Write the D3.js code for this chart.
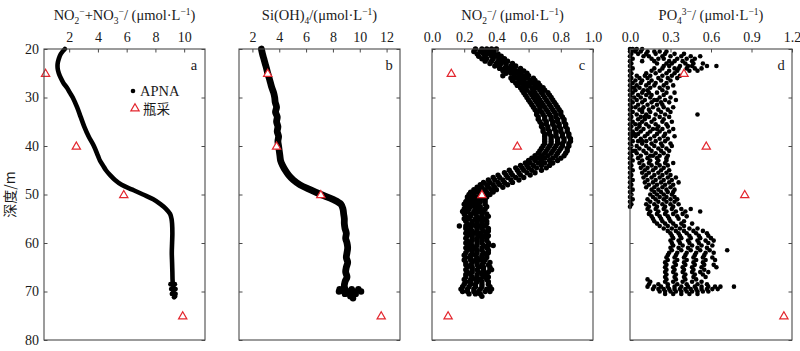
<!DOCTYPE html>
<html lang="zh">
<head>
<meta charset="UTF-8">
<title>APNA profiles</title>
<script src="https://cdn.jsdelivr.net/npm/d3@7"></script>
<style>
  html, body { margin: 0; background: #fff; }
  svg { display: block; }
  text { font-family: "Liberation Serif", "Times New Roman", "DejaVu Serif", serif; fill: #1a1a1a; }
</style>
</head>
<body>
<svg id="svg" width="800" height="351"></svg>
<script>
// ---- data ----
const depthTicks = [20, 30, 40, 50, 60, 70, 80];

// bottle samples (瓶采)
const bottleDepth = [25, 40, 50, 75];
const bottleNOx = [0.36, 2.5, 5.8, 9.9];
const bottleSi = [3.14, 3.8, 7.1, 11.6];
const bottleNO2 = [0.12, 0.53, 0.31, 0.10];
const bottlePO4 = [0.40, 0.565, 0.85, 1.14];

// APNA, NO2+NO3 (continuous trace)
const apnaNOxDepth = [20, 21, 22, 23, 24, 25, 26, 27, 28, 29, 30, 32, 34, 36, 38, 40, 42, 43, 44, 45, 46, 47, 48, 49, 50, 51, 52, 53, 54, 55, 56, 58, 60, 62, 64, 66, 68, 69, 70, 71];
const apnaNOx = [1.70, 1.42, 1.28, 1.20, 1.20, 1.28, 1.42, 1.60, 1.85, 2.05, 2.25, 2.55, 2.80, 3.05, 3.35, 3.72, 4.00, 4.14, 4.35, 4.56, 4.85, 5.19, 5.65, 6.40, 7.14, 7.85, 8.35, 8.75, 9.02, 9.12, 9.16, 9.18, 9.16, 9.14, 9.16, 9.18, 9.20, 9.25, 9.25, 9.37];
const apnaNOxTail = [[68.5, 9.05, 9.35], [69.5, 9.1, 9.4], [70.5, 9.15, 9.4], [71.2, 9.3]];

// APNA, Si(OH)4
const apnaSiDepth = [20, 21, 22, 23, 24, 25, 26, 27, 28, 29, 30, 31, 32, 33, 34, 35, 36, 37, 38, 39, 40, 41, 42, 43, 44, 45, 46, 47, 48, 49, 50, 51, 52, 53, 54, 55, 56, 57, 58, 59, 60, 61, 62, 63, 64, 65, 66, 67, 68, 69, 70];
const apnaSi = [2.67, 2.75, 2.85, 2.95, 3.05, 3.14, 3.25, 3.35, 3.45, 3.58, 3.66, 3.70, 3.80, 3.72, 3.85, 3.80, 3.90, 3.85, 3.95, 3.90, 3.95, 4.00, 4.05, 4.10, 4.25, 4.45, 4.70, 5.05, 5.55, 6.30, 7.10, 8.00, 8.60, 8.75, 8.80, 8.85, 8.85, 8.90, 9.00, 8.95, 9.05, 9.10, 9.05, 9.00, 9.10, 9.00, 8.95, 9.05, 8.90, 8.85, 9.00];
const apnaSiTail = [[69.5, 8.5, 8.9, 9.4, 9.9], [70, 8.45, 8.8, 9.2, 9.6, 10.1], [70.5, 8.9, 9.3, 9.7], [71, 9.3, 9.5], [71.4, 9.5]];

// APNA, NO2 : [depth, values...]
const apnaNO2Rows = [
  [20.0, .27, .31, .34, .37, .40], [20.5, .26, .30, .33, .36, .39], [21.0, .28, .32, .35, .38, .41],
  [21.5, .29, .33, .37, .40, .43], [22.0, .31, .34, .38, .42, .45], [22.5, .33, .37, .41, .44, .47],
  [23.0, .36, .40, .43, .46, .50], [23.5, .39, .42, .46, .49, .52], [24.0, .42, .45, .48, .51, .55],
  [24.5, .44, .47, .50, .53, .57], [25.0, .46, .49, .52, .55, .59], [25.5, .44, .51, .54, .57, .60],
  [26.0, .49, .52, .56, .59, .63], [26.5, .50, .54, .57, .61, .64], [27.0, .52, .55, .59, .62, .66],
  [27.5, .53, .57, .60, .64, .67], [28.0, .55, .58, .62, .65, .69], [28.5, .56, .59, .63, .67, .70],
  [29.0, .57, .61, .64, .68, .72], [29.5, .58, .62, .65, .69, .73], [30.0, .59, .63, .66, .70, .74],
  [30.5, .60, .64, .67, .71, .75], [31.0, .61, .65, .68, .72, .76], [31.5, .62, .66, .69, .73, .77],
  [32.0, .63, .67, .70, .74, .78], [32.5, .64, .67, .71, .75, .79], [33.0, .65, .68, .72, .76, .80],
  [33.5, .65, .69, .73, .77, .80], [34.0, .66, .70, .74, .77, .81], [34.5, .66, .70, .74, .78, .82],
  [35.0, .67, .71, .75, .78, .82], [35.5, .68, .71, .75, .79, .83], [36.0, .68, .72, .76, .79, .83],
  [36.5, .69, .72, .76, .80, .84], [37.0, .69, .73, .77, .80, .84], [37.5, .70, .73, .77, .81, .85],
  [38.0, .70, .74, .77, .81, .85], [38.5, .70, .74, .78, .82, .86], [39.0, .70, .74, .78, .82, .86],
  [39.5, .70, .74, .78, .81, .85], [40.0, .69, .73, .77, .81, .85], [40.5, .68, .72, .76, .80, .84],
  [41.0, .67, .71, .75, .79, .84], [41.5, .66, .70, .74, .78, .83], [42.0, .64, .68, .72, .77, .82],
  [42.5, .62, .66, .70, .75, .80], [43.0, .60, .64, .68, .73, .78], [43.5, .58, .61, .66, .70, .75],
  [44.0, .55, .59, .63, .68, .73], [44.5, .52, .56, .60, .65, .71], [45.0, .48, .53, .57, .62, .68],
  [45.5, .45, .49, .54, .59, .64], [46.0, .41, .46, .50, .55, .61], [46.5, .38, .42, .47, .52, .57],
  [47.0, .35, .39, .44, .49, .54], [47.5, .32, .36, .41, .45, .50], [48.0, .30, .34, .38, .42, .47],
  [48.5, .28, .31, .35, .39, .44], [49.0, .26, .29, .33, .37, .40], [49.5, .24, .28, .31, .34, .38],
  [50.0, .23, .26, .30, .33, .36], [50.5, .22, .25, .28, .31, .34], [51.0, .22, .25, .27, .30, .33],
  [51.5, .21, .24, .27, .30, .33], [52.0, .20, .23, .26, .29, .33], [52.5, .21, .24, .27, .30, .34],
  [53.0, .20, .23, .27, .30, .33], [53.5, .19, .22, .26, .29, .32], [54.0, .20, .24, .27, .31, .34],
  [54.5, .21, .24, .28, .31, .35], [55.0, .20, .23, .27, .30, .33], [55.5, .21, .25, .28, .31, .34],
  [56.0, .22, .25, .28, .31, .34], [56.5, .17, .21, .24, .27, .30, .33], [57.0, .21, .24, .28, .31, .35],
  [57.5, .22, .25, .28, .32, .35], [58.0, .21, .24, .27, .30, .34], [58.5, .22, .25, .29, .32, .35],
  [59.0, .21, .25, .28, .31, .34], [59.5, .22, .25, .28, .31, .34], [60.0, .21, .24, .28, .31, .35],
  [60.5, .22, .25, .28, .32, .35, .38], [61.0, .21, .24, .27, .31, .34], [61.5, .22, .25, .28, .31, .35],
  [62.0, .21, .25, .28, .32, .35], [62.5, .20, .24, .27, .31, .34], [63.0, .21, .24, .28, .31, .34],
  [63.5, .20, .24, .27, .30, .33], [64.0, .21, .25, .28, .32, .36], [64.5, .21, .24, .28, .31, .35],
  [65.0, .22, .25, .29, .32, .36], [65.5, .21, .25, .28, .32, .36, .37], [66.0, .22, .25, .29, .32, .35],
  [66.5, .21, .24, .28, .31, .34], [67.0, .21, .25, .28, .32, .35], [67.5, .20, .24, .27, .30, .34],
  [68.0, .21, .24, .28, .31, .35], [68.5, .20, .24, .27, .31, .35], [69.0, .19, .23, .27, .31, .36],
  [69.5, .18, .22, .26, .30, .34, .37], [70.0, .19, .22, .26, .29, .33, .36], [70.5, .23, .27, .30],
  [71.0, .31]
];

// APNA, PO4 : [depth, values...]
const apnaPO4Rows = [
  [20.0, .00, .02, .05, .09], [20.3, .01, .03], [20.5, .00, .04, .08, .13, .18, .22, .27], [21.0, .01, .06, .12, .19, .26, .33, .40],
  [21.5, .00, .10, .14, .24, .30, .38, .45, .52], [22.0, .02, .16, .21, .25, .35, .42, .48], [22.5, .00, .09, .18, .29, .33, .39, .46],
  [23.0, .01, .20, .27, .31, .41, .47, .54], [23.5, .00, .25, .29, .37, .43, .46, .57, .64], [24.0, .02, .18, .24, .33, .36, .42, .48, .53],
  [24.5, .00, .16, .22, .29, .35, .44, .50], [25.0, .01, .12, .19, .27, .33], [25.5, .00, .05, .11, .15, .24, .31, .37],
  [26.0, .01, .07, .13, .21, .28, .35], [26.5, .00, .04, .09, .16, .23, .30], [27.0, .02, .08, .14, .19, .27],
  [27.5, .00, .05, .12, .18, .25, .32], [28.0, .01, .03, .07, .15, .22, .28], [28.5, .00, .04, .10, .13, .24],
  [29.0, .02, .09, .14, .20, .27, .33], [29.5, .00, .06, .12, .16, .25], [30.0, .01, .03, .08, .15, .22, .30],
  [30.5, .00, .05, .11, .18, .20, .26, .34], [31.0, .02, .09, .16, .23, .29], [31.5, .00, .06, .13, .20, .24],
  [32.0, .01, .04, .10, .17, .25, .32], [32.5, .00, .07, .09, .14, .21, .28], [33.0, .02, .09, .15, .23, .30],
  [33.5, .00, .05, .12, .19, .26, .50], [34.0, .01, .08, .11, .14, .22, .29], [34.5, .00, .06, .11, .18, .25],
  [35.0, .02, .09, .16, .24, .31], [35.5, .00, .04, .07, .12, .19, .27], [36.0, .01, .07, .14, .21, .28],
  [36.5, .00, .05, .10, .17, .20, .24, .32], [37.0, .02, .08, .15, .22, .29], [37.5, .00, .03, .06, .13, .20, .26],
  [38.0, .01, .04, .11, .18, .25, .33], [38.5, .00, .08, .15, .22, .28], [39.0, .02, .06, .09, .12, .19, .26],
  [39.5, .00, .09, .16, .23, .30], [40.0, .01, .05, .12, .18, .24, .31], [40.5, .00, .07, .14, .21, .27],
  [41.0, .02, .04, .10, .16, .23, .29], [41.5, .00, .05, .12, .19, .25], [42.0, .01, .08, .15, .17, .22, .28],
  [42.5, .00, .06, .13, .20, .27], [43.0, .02, .09, .15, .21, .27], [43.5, .00, .07, .14, .20, .26, .32],
  [44.0, .01, .10, .16, .22, .28], [44.5, .00, .08, .13, .19, .25], [45.0, .02, .11, .17, .23, .29],
  [45.5, .00, .09, .14, .21, .27], [46.0, .01, .12, .18, .24, .30], [46.5, .00, .10, .16, .22, .28, .34],
  [47.0, .02, .13, .19, .25, .31], [47.5, .00, .11, .17, .23, .29, .36], [48.0, .01, .14, .20, .26, .32],
  [48.5, .00, .12, .18, .24, .30], [49.0, .02, .16, .21, .27, .33], [49.5, .00, .18, .23, .28, .32],
  [50.0, .01, .15, .20, .25, .31], [50.5, .00, .17, .22, .27, .33], [51.0, .02, .13, .19, .25, .30, .35],
  [51.5, .00, .15, .21, .27, .33], [52.0, .01, .12, .18, .24, .30, .36], [52.5, .00, .14, .20, .26, .32],
  [53.0, .13, .19, .25, .31, .38, .45], [53.5, .15, .21, .27, .34, .41, .52], [54.0, .14, .20, .26, .32, .39],
  [54.5, .16, .22, .28, .35, .42], [55.0, .17, .23, .29, .36], [55.5, .18, .24, .30, .40],
  [56.0, .20, .26, .32, .38, .46], [56.5, .22, .28, .34, .40], [57.0, .25, .31, .37, .44, .50],
  [57.5, .28, .34, .40, .47, .54], [58.0, .30, .36, .42, .49, .57], [58.5, .31, .37, .44, .51, .58],
  [59.0, .32, .38, .45, .52, .60], [59.5, .30, .36, .43, .50, .56, .62], [60.0, .31, .37, .44, .51, .58],
  [60.5, .32, .39, .46, .53, .61], [61.0, .30, .36, .43, .50, .57], [61.5, .31, .38, .45, .52, .59, .72],
  [62.0, .29, .35, .42, .49, .56, .62], [62.5, .28, .34, .41, .48, .55], [63.0, .27, .33, .40, .47, .54, .61],
  [63.5, .28, .35, .42, .49, .56, .63], [64.0, .26, .33, .40, .47, .54], [64.5, .27, .34, .41, .48, .55, .62],
  [65.0, .26, .32, .39, .46, .53, .64], [65.5, .27, .33, .40, .47, .55], [66.0, .26, .32, .39, .46, .52, .58],
  [66.5, .27, .34, .41, .48, .54], [67.0, .26, .33, .40, .47, .56], [67.5, .13, .27, .34, .41, .49],
  [68.0, .15, .26, .32, .39, .46, .53], [68.5, .14, .21, .28, .35, .42, .50, .57],
  [69.0, .13, .18, .23, .28, .33, .38, .43, .48, .53, .58, .63, .67, .77],
  [69.5, .17, .21, .25, .29, .33, .37, .41, .45, .49, .53, .57, .61, .65],
  [70.0, .22, .26, .30, .34, .38, .42, .46, .50, .54, .58], [70.5, .26, .32, .38, .44, .50]
];

// ---- layout ----
const svg = d3.select('#svg');
const plotTop = 49, plotBottom = 340;
const y = d3.scaleLinear().domain([20, 80]).range([plotTop, plotBottom]);
const red = '#e3262e';
const frameColor = '#4a4a4a';
const serif = '"Liberation Serif", "Times New Roman", serif';
const cjk = '"Noto Sans CJK SC", sans-serif';

const panels = [
  { letter: 'a', x0: 44, x1: 205, domain: [0.25, 11.45], ticks: [2, 4, 6, 8, 10], fmt: d3.format('d'),
    title: [['NO'], ['2', 'sub'], ['−', 'sup'], ['+NO'], ['3', 'sub'], ['−', 'sup'], ['/ (μmol·L'], ['−1', 'sup'], [')']],
    bottle: bottleNOx },
  { letter: 'b', x0: 239, x1: 400, domain: [1, 13], ticks: [2, 4, 6, 8, 10, 12], fmt: d3.format('d'),
    title: [['Si(OH)'], ['4', 'sub'], ['/(μmol·L'], ['−1', 'sup'], [')']],
    bottle: bottleSi },
  { letter: 'c', x0: 432, x1: 593, domain: [0, 1], ticks: [0, 0.2, 0.4, 0.6, 0.8, 1.0], fmt: d3.format('.1f'),
    title: [['NO'], ['2', 'sub'], ['−', 'sup'], ['/ (μmol·L'], ['−1', 'sup'], [')']],
    bottle: bottleNO2 },
  { letter: 'd', x0: 630, x1: 792, domain: [0, 1.2], ticks: [0, 0.3, 0.6, 0.9, 1.2], fmt: d3.format('.1f'),
    title: [['PO'], ['4', 'sub'], ['3−', 'sup'], ['/ (μmol·L'], ['−1', 'sup'], [')']],
    bottle: bottlePO4 }
];

function richText(sel, parts) {
  let off = 0;
  parts.forEach(([t, k]) => {
    const target = k === 'sub' ? 3.5 : k === 'sup' ? -5.5 : 0;
    sel.append('tspan').attr('dy', target - off).attr('font-size', k ? 9.5 : null).text(t);
    off = target;
  });
}

const rowsToPoints = rows => rows.flatMap(r => r.slice(1).map(v => [r[0], v]));

const styleAxis = (g, labels) => {
  g.attr('font-family', null).attr('font-size', null);
  g.selectAll('.domain').remove();
  g.selectAll('.tick line').attr('stroke', frameColor).attr('stroke-width', 1);
  g.selectAll('.tick text')
    .style('font-family', serif)
    .style('font-size', '14px')
    .attr('fill', '#1a1a1a');
  if (!labels) g.selectAll('.tick text').remove();
};

const tri = d3.symbol().type(d3.symbolTriangle).size(30);

panels.forEach((p, i) => {
  const x = d3.scaleLinear().domain(p.domain).range([p.x0, p.x1]);
  const g = svg.append('g');

  // data marks
  if (p.letter === 'a' || p.letter === 'b') {
    const depths = p.letter === 'a' ? apnaNOxDepth : apnaSiDepth;
    const vals = p.letter === 'a' ? apnaNOx : apnaSi;
    const tail = p.letter === 'a' ? apnaNOxTail : apnaSiTail;
    const line = d3.line().x(d => x(d[1])).y(d => y(d[0])).curve(d3.curveCatmullRom);
    g.append('path')
      .datum(depths.map((d, k) => [d, vals[k]]))
      .attr('d', line)
      .attr('fill', 'none')
      .attr('stroke', '#000')
      .attr('stroke-width', p.letter === 'a' ? 4.6 : 6.8)
      .attr('stroke-linejoin', 'round')
      .attr('stroke-linecap', 'round');
    g.selectAll('circle.tail').data(rowsToPoints(tail)).join('circle')
      .attr('class', 'tail')
      .attr('cx', d => x(d[1])).attr('cy', d => y(d[0]))
      .attr('r', p.letter === 'a' ? 2.4 : 3.2)
      .attr('fill', '#000');
  } else {
    const rows = p.letter === 'c' ? apnaNO2Rows : apnaPO4Rows;
    g.selectAll('circle.pt').data(rowsToPoints(rows)).join('circle')
      .attr('class', 'pt')
      .attr('cx', d => x(d[1])).attr('cy', d => y(d[0]))
      .attr('r', p.letter === 'c' ? 2.7 : 2.3)
      .attr('fill', '#000');
  }

  // bottle samples
  g.selectAll('path.bottle').data(bottleDepth.map((d, k) => [d, p.bottle[k]])).join('path')
    .attr('class', 'bottle')
    .attr('d', tri)
    .attr('transform', d => `translate(${x(d[1])},${y(d[0]) + 0.8})`)
    .attr('fill', '#fff')
    .attr('stroke', red)
    .attr('stroke-width', 1.2);

  // axes with inward ticks
  svg.append('g').attr('transform', `translate(0,${plotTop})`)
    .call(d3.axisTop(x).tickValues(p.ticks).tickFormat(p.fmt).tickSizeInner(-3.5).tickSizeOuter(0).tickPadding(7))
    .call(g => styleAxis(g, true));
  svg.append('g').attr('transform', `translate(${p.x0},0)`)
    .call(d3.axisLeft(y).tickValues(depthTicks).tickSizeInner(-3.5).tickSizeOuter(0).tickPadding(5))
    .call(g => styleAxis(g, i === 0));
  svg.append('g').attr('transform', `translate(${p.x1},0)`)
    .call(d3.axisRight(y).tickValues(depthTicks).tickSizeInner(-3.5).tickSizeOuter(0))
    .call(g => styleAxis(g, false));

  svg.append('rect')
    .attr('x', p.x0).attr('y', plotTop)
    .attr('width', p.x1 - p.x0).attr('height', plotBottom - plotTop)
    .attr('fill', 'none').attr('stroke', frameColor).attr('stroke-width', 1.1);

  // title & panel letter
  svg.append('text')
    .attr('x', (p.x0 + p.x1) / 2).attr('y', 20)
    .attr('text-anchor', 'middle').style('font-family', serif).style('font-size', '14.5px')
    .call(t => richText(t, p.title));
  svg.append('text')
    .attr('x', p.x1 - 11).attr('y', 70)
    .attr('text-anchor', 'middle').style('font-family', serif).style('font-size', '14.5px')
    .text(p.letter);

  if (i === 0) {
    // legend
    svg.append('circle').attr('cx', 133).attr('cy', 91).attr('r', 2.3).attr('fill', '#000');
    svg.append('text').attr('x', 140).attr('y', 96)
      .style('font-family', serif).style('font-size', '14.5px').text('APNA');
    svg.append('path').attr('d', tri).attr('transform', 'translate(135,108.5)')
      .attr('fill', '#fff').attr('stroke', red).attr('stroke-width', 1.2);
    svg.append('text').attr('x', 143).attr('y', 113.5)
      .style('font-family', cjk).style('font-size', '13.5px').text('瓶采');
  }
});

// y-axis title
svg.append('text')
  .attr('transform', `translate(15,${y(50)}) rotate(-90)`)
  .attr('text-anchor', 'middle')
  .style('font-family', cjk).style('font-size', '14px')
  .text('深度/m');
</script>
</body>
</html>
